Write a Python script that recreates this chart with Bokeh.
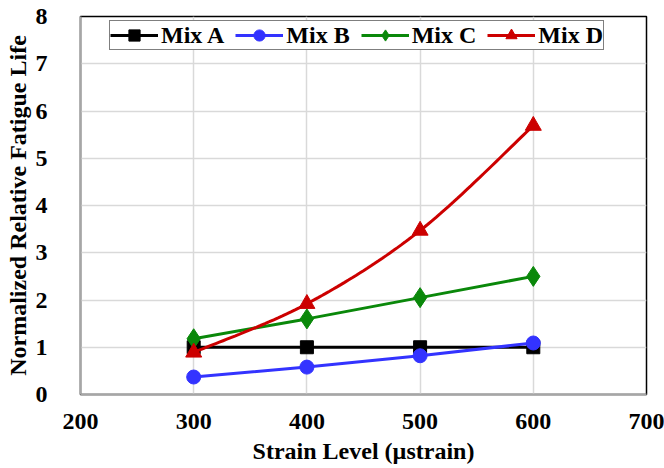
from bokeh.plotting import figure
from bokeh.models import FixedTicker, Range1d, Legend
from bokeh.embed import file_html
from bokeh.resources import INLINE

# Strain levels (microstrain) and normalized relative fatigue life per mix
strain = [300, 400, 500, 600]
mix_a = [1.0, 1.0, 1.0, 1.0]
mix_b = [0.37, 0.58, 0.82, 1.09]
mix_c = [1.18, 1.60, 2.05, 2.50]
mix_d = [0.89, 1.92, 3.47, 5.69]

x_ticks = [200, 300, 400, 500, 600, 700]
y_ticks = [0, 1, 2, 3, 4, 5, 6, 7, 8]

FONT = "Liberation Serif"


def smooth_curve(xs, ys, steps=30):
    """Cubic Bezier smoothing through the points (spreadsheet-style smoothed line)."""
    n = len(xs)
    px = [xs[0]] + list(xs) + [xs[-1]]
    py = [ys[0]] + list(ys) + [ys[-1]]
    out_x, out_y = [], []
    for i in range(1, n):
        x0, y0 = px[i], py[i]
        x3, y3 = px[i + 1], py[i + 1]
        x1 = x0 + (px[i + 1] - px[i - 1]) / 6.0
        y1 = y0 + (py[i + 1] - py[i - 1]) / 6.0
        x2 = x3 - (px[i + 2] - px[i]) / 6.0
        y2 = y3 - (py[i + 2] - py[i]) / 6.0
        for k in range(steps + (1 if i == n - 1 else 0)):
            t = k / steps
            a, b, c, d = (1 - t) ** 3, 3 * t * (1 - t) ** 2, 3 * t * t * (1 - t), t ** 3
            out_x.append(a * x0 + b * x1 + c * x2 + d * x3)
            out_y.append(a * y0 + b * y1 + c * y2 + d * y3)
    return out_x, out_y


p = figure(width=664, height=468, output_backend="svg", toolbar_location=None,
           x_range=Range1d(200, 700), y_range=Range1d(0, 8),
           min_border_left=80, min_border_right=18, min_border_top=16, min_border_bottom=74)

p.background_fill_color = "white"
p.border_fill_color = "white"
p.outline_line_color = "black"
p.outline_line_width = 1.5

for ax in (p.xaxis[0], p.yaxis[0]):
    ax.axis_line_color = "#a6a6a6"
    ax.axis_line_width = 2
    ax.major_tick_line_color = None
    ax.minor_tick_line_color = None
    ax.major_label_text_font = FONT
    ax.major_label_text_font_style = "bold"
    ax.major_label_text_font_size = "24px"
    ax.major_label_text_color = "black"
    ax.axis_label_text_font = FONT
    ax.axis_label_text_font_style = "bold"
    ax.axis_label_text_font_size = "24px"
    ax.axis_label_text_color = "black"

p.xaxis.ticker = FixedTicker(ticks=x_ticks)
p.yaxis.ticker = FixedTicker(ticks=y_ticks)
p.xaxis.axis_label = "Strain Level (µstrain)"
p.yaxis.axis_label = "Normalized Relative Fatigue Life"
p.xaxis.major_label_standoff = 13
p.xaxis.axis_label_standoff = 6
p.yaxis.major_label_standoff = 27
p.yaxis.axis_label_standoff = 2

p.xgrid.ticker = FixedTicker(ticks=x_ticks)
p.ygrid.ticker = FixedTicker(ticks=y_ticks)
p.grid.grid_line_color = "#d9d9d9"
p.grid.grid_line_width = 1.5

items = []

la = p.line(strain, mix_a, line_color="black", line_width=3)
ma = p.scatter(strain, mix_a, marker="square", size=13, fill_color="black", line_color="black")
items.append(("Mix A", [la, ma]))

lb = p.line(strain, mix_b, line_color="#3333ff", line_width=3)
mb = p.scatter(strain, mix_b, marker="circle", size=14, fill_color="#3333ff", line_color="#3333ff")
items.append(("Mix B", [lb, mb]))

lc = p.line(strain, mix_c, line_color="#0a880a", line_width=3)
mc = p.scatter(strain, mix_c, marker="diamond", size=20, fill_color="#0a880a", line_color="#0a880a")
items.append(("Mix C", [lc, mc]))

dx, dy = smooth_curve(strain, mix_d)
ld = p.line(dx, dy, line_color="#cc0000", line_width=3)
md = p.scatter(strain, mix_d, marker="triangle", size=16, fill_color="#cc0000", line_color="#cc0000")
items.append(("Mix D", [ld, md]))

legend = Legend(items=items, orientation="horizontal", location=(29, 344))
legend.label_text_font = FONT
legend.label_text_font_style = "bold"
legend.label_text_font_size = "24px"
legend.label_text_color = "black"
legend.border_line_color = "black"
legend.border_line_width = 1.5
legend.background_fill_alpha = 1.0
legend.glyph_width = 48
legend.glyph_height = 28
legend.label_height = 24
legend.label_standoff = 3
legend.spacing = 11
legend.padding = 0
legend.margin = 0
p.add_layout(legend)

open("out.html", "w").write(file_html(p, INLINE))
